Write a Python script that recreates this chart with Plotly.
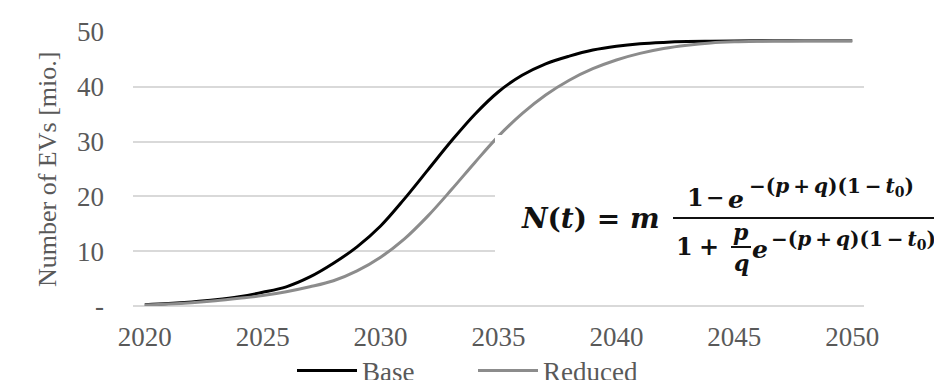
import plotly.graph_objects as go

# ---- data ----
years = list(range(2020, 2051))
base = [0.25, 0.45, 0.75, 1.15, 1.7, 2.5, 3.5, 5.3, 7.8, 10.8,
        14.6, 19.5, 24.8, 30.1, 35.0, 39.1, 42.1, 44.2, 45.6, 46.7,
        47.4, 47.85, 48.1, 48.25, 48.32, 48.37, 48.4, 48.4, 48.4, 48.4, 48.4]
reduced = [0.2, 0.35, 0.6, 0.95, 1.4, 1.9, 2.6, 3.5, 4.6, 6.4,
           8.9, 12.2, 16.4, 21.2, 26.2, 31.0, 35.1, 38.5, 41.2, 43.3,
           44.9, 46.1, 47.0, 47.6, 48.0, 48.2, 48.3, 48.35, 48.4, 48.4, 48.4]
y_ticks = [0, 10, 20, 30, 40, 50]
y_ticktext = ["-", "10", "20", "30", "40", "50"]
x_ticks = [2020, 2025, 2030, 2035, 2040, 2045, 2050]
series_names = ["Base", "Reduced"]

W, H = 934, 380
L, R, T, B = 133, 70, 32, 74
PW, PH = W - L - R, H - T - B


def px(xp):
    return (xp - L) / PW


def py(yp):
    return (H - B - yp) / PH


TXT = "#595959"
SERIF = "Liberation Serif"
MATH = "DejaVu Serif"
MC = "#111111"

fig = go.Figure()
fig.add_trace(go.Scatter(x=years, y=base, mode="lines", name=series_names[0],
                         line=dict(color="#000000", width=3, shape="spline")))
fig.add_trace(go.Scatter(x=years, y=reduced, mode="lines", name=series_names[1],
                         line=dict(color="#8c8c8c", width=3, shape="spline")))

fig.update_layout(
    width=W, height=H,
    margin=dict(l=L, r=R, t=T, b=B, autoexpand=False),
    paper_bgcolor="white", plot_bgcolor="white",
    font=dict(family=SERIF, size=27, color=TXT),
    showlegend=True,
    legend=dict(orientation="h", x=px(292), xanchor="left", y=py(371), yanchor="middle",
                font=dict(family=SERIF, size=27, color=TXT), itemwidth=60,
                entrywidth=106, entrywidthmode="pixels",
                bgcolor="rgba(0,0,0,0)", tracegroupgap=0),
    xaxis=dict(range=[2019.5, 2050.5], tickvals=x_ticks, showgrid=False, zeroline=False,
               showline=False, ticks="", ticklabelstandoff=12,
               tickfont=dict(family=SERIF, size=27, color=TXT)),
    yaxis=dict(range=[0, 50], tickvals=y_ticks, ticktext=y_ticktext, showgrid=True,
               gridcolor="#d9d9d9", gridwidth=1.5, zeroline=True, zerolinecolor="#d9d9d9",
               zerolinewidth=1.5, showline=False, ticks="", ticklabelstandoff=28,
               tickfont=dict(family=SERIF, size=27, color=TXT)),
)

# white box behind the formula (covers gridlines)
fig.add_shape(type="rect", xref="paper", yref="paper", x0=px(495), x1=px(945),
              y0=py(290), y1=py(135), fillcolor="white", line=dict(width=0), layer="above")
# main fraction bar
fig.add_shape(type="line", xref="paper", yref="paper", x0=px(673), x1=px(945),
              y0=py(218), y1=py(218), line=dict(color=MC, width=2), layer="above")
# small p/q bar
fig.add_shape(type="line", xref="paper", yref="paper", x0=px(731), x1=px(751),
              y0=py(247), y1=py(247), line=dict(color=MC, width=2), layer="above")


def ann(text, x, y, size, xanchor="left"):
    fig.add_annotation(text=text, xref="paper", yref="paper", x=px(x), y=py(y),
                       xanchor=xanchor, yanchor="middle", showarrow=False,
                       borderpad=0, borderwidth=0,
                       font=dict(family=MATH, size=size, color=MC))


TS = "\u2009"
expo = ("<b>−(<i>p</i>" + TS + "+" + TS + "<i>q</i>)(1" + TS + "−" + TS
        + "<i>t</i><sub>0</sub>)</b>")

ann("<b><i>N</i>(<i>t</i>) = <i>m</i></b>", 521, 218, 28)
# numerator
ann("<b>1</b>", 687, 197, 24)
ann("<b>−</b>", 715, 197, 22, "center")
ann("<b><i>e</i></b>", 728, 199, 25)
ann(expo, 749, 187, 20)
# denominator
ann("<b>1</b>", 676, 246, 24)
ann("<b>+</b>", 709, 246, 24, "center")
ann("<b><i>p</i></b>", 741, 232, 22, "center")
ann("<b><i>q</i></b>", 741, 263, 22, "center")
ann("<b><i>e</i></b>", 752, 249, 25)
ann(expo, 771, 240, 20)

# y-axis title
fig.add_annotation(text="Number of EVs [mio.]", xref="paper", yref="paper",
                   x=px(48), y=py(170), xanchor="center", yanchor="middle",
                   textangle=-90, showarrow=False,
                   font=dict(family=SERIF, size=26, color=TXT))

fig.write_html("out.html", config={"displayModeBar": False},
               post_script="document.body.style.margin='0px';")
